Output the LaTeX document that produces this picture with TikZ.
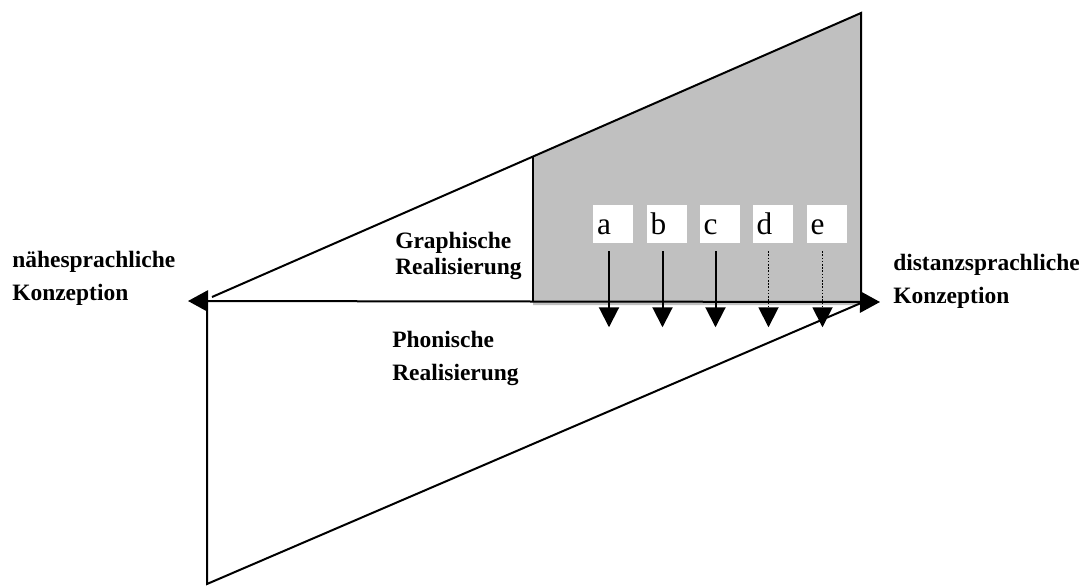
\documentclass[tikz,border=0pt]{standalone}
\usepackage{fontspec}
\setmainfont{Liberation Serif}
\usetikzlibrary{arrows.meta, calc}
\definecolor{shadegray}{RGB}{192,192,192}
\tikzset{
  bigtip/.tip={Triangle[length=15pt, width=16pt]},
  axis/.style={line width=1.5pt, color=black},
  downarrow/.style={-{Triangle[length=15pt, width=15pt]}, line width=1.5pt, color=black},
  dots/.style={line width=1.4pt, dash pattern=on 1.1pt off 1.3pt},
  lbl/.style={anchor=north west, inner sep=0pt, align=left,
    font=\fontsize{17.6}{25}\selectfont\bfseries},
  tightlbl/.style={lbl, font=\fontsize{17.6}{19.5}\selectfont\bfseries},
  letbox/.style={rectangle, fill=white, text width=24pt, inner xsep=3pt,
    inner ysep=0pt, minimum height=28.5pt, text height=15.7pt, text depth=0pt,
    align=left, font=\fontsize{23.5}{23.5}\selectfont}
}
\begin{document}
\begin{tikzpicture}[x=0.75pt, y=-0.75pt]
  \useasboundingbox (0,0) rectangle (1086,586);

  % corner points of the two triangles
  \coordinate (apex) at (861,13);
  \coordinate (gtop) at (533,157);
  \coordinate (gbot) at (533,301);
  \coordinate (uleft) at (212,297);
  \coordinate (uright) at (861,301);
  \coordinate (lleft) at (207,301);
  \coordinate (lbot) at (207,584);
  \coordinate (lright) at (861,303);
  \coordinate (tipL) at (188,301);
  \coordinate (tipR) at (880,302);

  % gray area (graphic realisation)
  \fill[shadegray] (gtop) -- (apex) -- (861,305) -- (533,305) -- cycle;

  % upper triangle
  \draw[axis] (uleft) -- (apex) -- (uright);
  \draw[axis] (gtop) -- (gbot);

  % lower triangle
  \draw[axis] (lleft) -- (lbot) -- (lright);

  % main axis
  \draw[axis, bigtip-bigtip] (tipL) -- (tipR);

  % letter boxes
  \foreach \n/\x in {a/613, b/666.5, c/719.5, d/772.5, e/826.5}
    \node[letbox] (\n) at (\x,224) {\n};

  % arrows below the boxes
  \foreach \n/\st in {a/solid, b/solid, c/solid, d/dots, e/dots} {
    \coordinate (\n tip) at ($(\n.south)+(-3pt,-63pt)$);
    \draw[downarrow, \st, shorten <=6pt] ([xshift=-3pt]\n.south) -- (\n tip);
  }

  % labels
  \node[lbl] (nearLbl) at (12,251) {nähesprachliche\\Konzeption};
  \node[lbl] (distLbl) at (893,254) {distanzsprachliche\\Konzeption};
  \node[tightlbl] (graphLbl) at (395,232) {Graphische\\Realisierung};
  \node[lbl] (phonLbl) at (392,331) {Phonische\\Realisierung};
\end{tikzpicture}
\end{document}
